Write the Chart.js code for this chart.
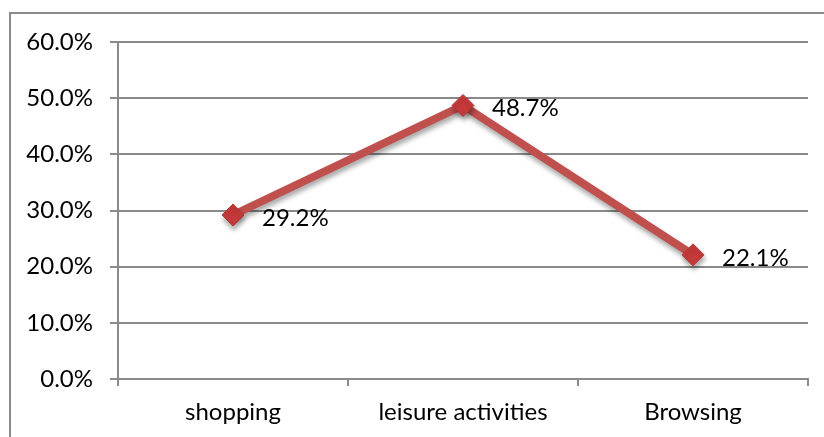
<!DOCTYPE html>
<html>
<head>
<meta charset="utf-8">
<script src="https://cdn.jsdelivr.net/npm/chart.js@4/dist/chart.umd.min.js"></script>
<style>
  html, body { margin: 0; padding: 0; background: #fff; overflow: hidden; }
  #wrap { position: relative; width: 824px; height: 437px; }
  #frame {
    position: absolute; left: 9px; top: 12px; width: 900px; height: 500px;
    border-left: 2px solid #8a8a8a; border-top: 2px solid #8a8a8a;
    pointer-events: none;
  }
  canvas { position: absolute; left: 0; top: 0; }
</style>
</head>
<body>
<div id="wrap">
  <div id="frame"></div>
  <canvas id="usage" width="824" height="437"></canvas>
</div>
<script>
const categories = ['shopping', 'leisure activities', 'Browsing'];
const shares = [29.2, 48.7, 22.1];
const yTicks = [0, 10, 20, 30, 40, 50, 60];

const FONT = 'Lato, "Open Sans", sans-serif';

// soft drop shadow under the line and markers
const shadowPlugin = {
  id: 'lineShadow',
  beforeDatasetDraw(chart) {
    const ctx = chart.ctx;
    ctx.save();
    ctx.shadowColor = 'rgba(0,0,0,0.35)';
    ctx.shadowBlur = 5;
    ctx.shadowOffsetX = 1;
    ctx.shadowOffsetY = 4;
  },
  afterDatasetDraw(chart) {
    chart.ctx.restore();
  }
};

// value labels to the right of each point
const valueLabels = {
  id: 'valueLabels',
  afterDatasetsDraw(chart) {
    const ctx = chart.ctx;
    const meta = chart.getDatasetMeta(0);
    ctx.save();
    ctx.font = '24px ' + FONT;
    ctx.fillStyle = '#000';
    ctx.textAlign = 'left';
    ctx.textBaseline = 'middle';
    meta.data.forEach((pt, i) => {
      ctx.fillText(shares[i].toFixed(1) + '%', pt.x + 29, pt.y + 3);
    });
    ctx.restore();
  }
};

new Chart(document.getElementById('usage'), {
  type: 'line',
  data: {
    labels: categories,
    datasets: [{
      data: shares,
      borderColor: 'rgb(192, 80, 77)',
      borderWidth: 8,
      tension: 0,
      pointStyle: 'rectRot',
      pointRadius: 11,
      pointHoverRadius: 11,
      pointBackgroundColor: '#c63a3b',
      pointBorderColor: '#b93535',
      pointBorderWidth: 1
    }]
  },
  options: {
    responsive: false,
    animation: false,
    layout: { padding: { left: 10, top: 42, right: 16, bottom: 0 } },
    plugins: {
      legend: { display: false },
      tooltip: { enabled: false }
    },
    scales: {
      x: {
        offset: true,
        grid: {
          offset: true,
          drawOnChartArea: false,
          tickLength: 7,
          color: '#8a8a8a',
          lineWidth: 2
        },
        border: { color: '#8a8a8a', width: 2 },
        ticks: {
          color: '#000',
          padding: 12,
          font: { family: FONT, size: 24 }
        },
        afterFit(scale) { scale.height = 58; }
      },
      y: {
        min: 0,
        max: 60,
        afterBuildTicks(scale) { scale.ticks = yTicks.map(v => ({ value: v })); },
        grid: { color: '#8a8a8a', lineWidth: 2, tickLength: 8 },
        border: { color: '#8a8a8a', width: 2 },
        ticks: {
          color: '#000',
          padding: 17,
          font: { family: FONT, size: 24 },
          callback: v => v.toFixed(1) + '%'
        },
        afterFit(scale) { scale.width = 108; }
      }
    }
  },
  plugins: [shadowPlugin, valueLabels]
});
</script>
</body>
</html>
